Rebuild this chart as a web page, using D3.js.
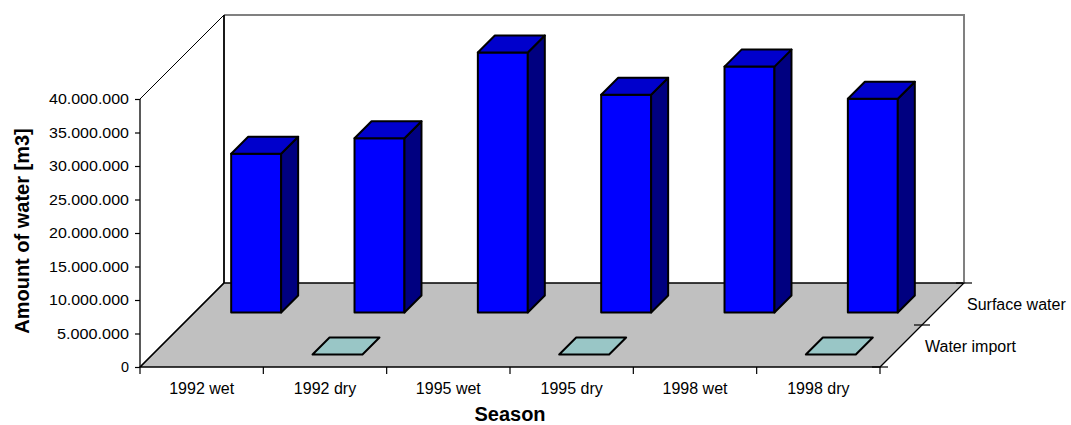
<!DOCTYPE html>
<html>
<head>
<meta charset="utf-8">
<script src="https://cdn.jsdelivr.net/npm/d3@7"></script>
<style>
  html, body { margin: 0; padding: 0; background: #fff; }
  svg { display: block; font-family: Arial, "Liberation Sans", sans-serif; }
</style>
</head>
<body>
<svg id="chart" width="1071" height="425"></svg>
<script>
// ---- data ----
const categories = ["1992 wet", "1992 dry", "1995 wet", "1995 dry", "1998 wet", "1998 dry"];
const seriesNames = ["Water import", "Surface water"]; // front row to back row
const waterImport = [null, 0, null, 0, null, 0];
const surfaceWater = [23700000, 26000000, 38800000, 32500000, 36700000, 31900000];
const yTicks = [0, 5000000, 10000000, 15000000, 20000000, 25000000, 30000000, 35000000, 40000000];

const seriesValues = { "Water import": waterImport, "Surface water": surfaceWater };

// ---- layout ----
const svg = d3.select("#chart");
const pLeft = 140, pRight = 880, pBottom = 367, pTop = 99, depth = 84, yMax = 40000000;

const x = d3.scaleBand().domain(categories).range([pLeft, pRight]).paddingInner(0).paddingOuter(0);
const y = d3.scaleLinear().domain([0, yMax]).range([pBottom, pTop]);
const z = d3.scaleBand().domain(seriesNames).range([0, depth]);

const barFrac = 0.405;
const P = (px, v, pz) => [px + pz, y(v) - pz];
const poly = pts => pts.map(p => p.join(",")).join(" ");

const loc = d3.formatLocale({ decimal: ",", thousands: ".", grouping: [3], currency: ["", ""] });
const fmt = loc.format(",");

// ---- floor ----
svg.append("polygon")
  .attr("points", poly([P(pLeft, 0, 0), P(pRight, 0, 0), P(pRight, 0, depth), P(pLeft, 0, depth)]))
  .attr("fill", "#c0c0c0").attr("stroke", "#000").attr("stroke-width", 1.3);

// ---- walls ----
svg.append("polyline")
  .attr("points", poly([P(pLeft, yMax, depth), P(pRight, yMax, depth), P(pRight, 0, depth)]))
  .attr("fill", "none").attr("stroke", "#808080").attr("stroke-width", 2);
svg.append("line")
  .attr("x1", pLeft + depth).attr("y1", y(yMax) - depth)
  .attr("x2", pLeft + depth).attr("y2", y(0) - depth)
  .attr("stroke", "#000").attr("stroke-width", 1.8);
svg.append("line")
  .attr("x1", pLeft).attr("y1", y(yMax))
  .attr("x2", pLeft + depth).attr("y2", y(yMax) - depth)
  .attr("stroke", "#000").attr("stroke-width", 1);
svg.append("line")
  .attr("x1", pLeft).attr("y1", y(0))
  .attr("x2", pLeft + depth).attr("y2", y(0) - depth)
  .attr("stroke", "#000").attr("stroke-width", 1.3);

// ---- y axis ----
const yAxis = d3.axisLeft(y).tickValues(yTicks).tickSize(5).tickFormat("");
const yg = svg.append("g").attr("transform", `translate(${pLeft},0)`).call(yAxis);
yg.select(".domain").attr("stroke", "#000").attr("stroke-width", 1.3).attr("d", `M0,${y(yMax)}V${y(0)}`);
yg.selectAll(".tick line").attr("stroke", "#000").attr("stroke-width", 1.2);
svg.append("g").selectAll("text").data(yTicks).join("text")
  .attr("x", pLeft - 11).attr("y", d => y(d))
  .attr("text-anchor", "end").attr("dy", "0.36em")
  .attr("font-size", 14).attr("fill", "#000")
  .attr("textLength", d => fmt(d).length * 8.0)
  .attr("lengthAdjust", "spacingAndGlyphs")
  .text(d => fmt(d));

// ---- x axis ----
const xAxis = d3.axisBottom(x).tickSize(0).tickFormat("");
const xg = svg.append("g").attr("transform", `translate(0,${pBottom})`).call(xAxis);
xg.select(".domain").remove();
const bounds = categories.map(c => x(c)).concat([x(categories[categories.length - 1]) + x.bandwidth()]);
svg.append("g").selectAll("line").data(bounds).join("line")
  .attr("x1", d => d).attr("x2", d => d).attr("y1", pBottom).attr("y2", pBottom + 7)
  .attr("stroke", "#000").attr("stroke-width", 1.2);
svg.append("g").selectAll("text").data(categories).join("text")
  .attr("x", d => x(d) + x.bandwidth() / 2).attr("y", 394)
  .attr("text-anchor", "middle").attr("font-size", 16).attr("fill", "#000")
  .text(d => d);

// ---- depth axis ----
const zb = [0, z.bandwidth(), depth];
svg.append("g").selectAll("line").data(zb).join("line")
  .attr("x1", d => pRight + d - 8).attr("x2", d => pRight + d + 8)
  .attr("y1", d => pBottom - d).attr("y2", d => pBottom - d)
  .attr("stroke", "#000").attr("stroke-width", 1.2);
svg.append("g").selectAll("text").data(seriesNames).join("text")
  .attr("x", d => pRight + z(d) + z.bandwidth() / 2 + 24)
  .attr("y", d => pBottom - z(d) - z.bandwidth() / 2 + 6)
  .attr("font-size", 16).attr("fill", "#000")
  .text(d => d);

// ---- bars ----
const colors = {
  "Surface water": { front: "#0000ff", top: "#0000cc", side: "#000080" },
  "Water import": { front: "#99c6c6", top: "#99c6c6", side: "#4d8080" }
};
const barsG = svg.append("g");
[...seriesNames].reverse().forEach(s => {
  const vals = seriesValues[s];
  const col = colors[s];
  categories.forEach((c, i) => {
    const v = vals[i];
    if (v === null || v === undefined) return;
    const bw = x.bandwidth() * barFrac;
    const xl = x(c) + (x.bandwidth() - bw) / 2, xr = xl + bw;
    const bd = z.bandwidth() * barFrac;
    const z0 = z(s) + (z.bandwidth() - bd) / 2, z1 = z0 + bd;
    const g = barsG.append("g").attr("stroke", "#000").attr("stroke-width", 2).attr("stroke-linejoin", "round");
    if (v > 0) {
      g.append("polygon").attr("fill", col.front)
        .attr("points", poly([P(xl, 0, z0), P(xr, 0, z0), P(xr, v, z0), P(xl, v, z0)]));
      g.append("polygon").attr("fill", col.side)
        .attr("points", poly([P(xr, 0, z0), P(xr, 0, z1), P(xr, v, z1), P(xr, v, z0)]));
    }
    g.append("polygon").attr("fill", col.top)
      .attr("points", poly([P(xl, v, z0), P(xr, v, z0), P(xr, v, z1), P(xl, v, z1)]));
  });
});

// ---- axis titles ----
svg.append("text")
  .attr("x", (pLeft + pRight) / 2).attr("y", 421)
  .attr("text-anchor", "middle").attr("font-size", 20).attr("font-weight", "bold")
  .text("Season");
svg.append("text")
  .attr("transform", `translate(29,${(pTop + pBottom) / 2 - 2}) rotate(-90)`)
  .attr("text-anchor", "middle").attr("font-size", 20).attr("font-weight", "bold")
  .text("Amount of water [m3]");
</script>
</body>
</html>
